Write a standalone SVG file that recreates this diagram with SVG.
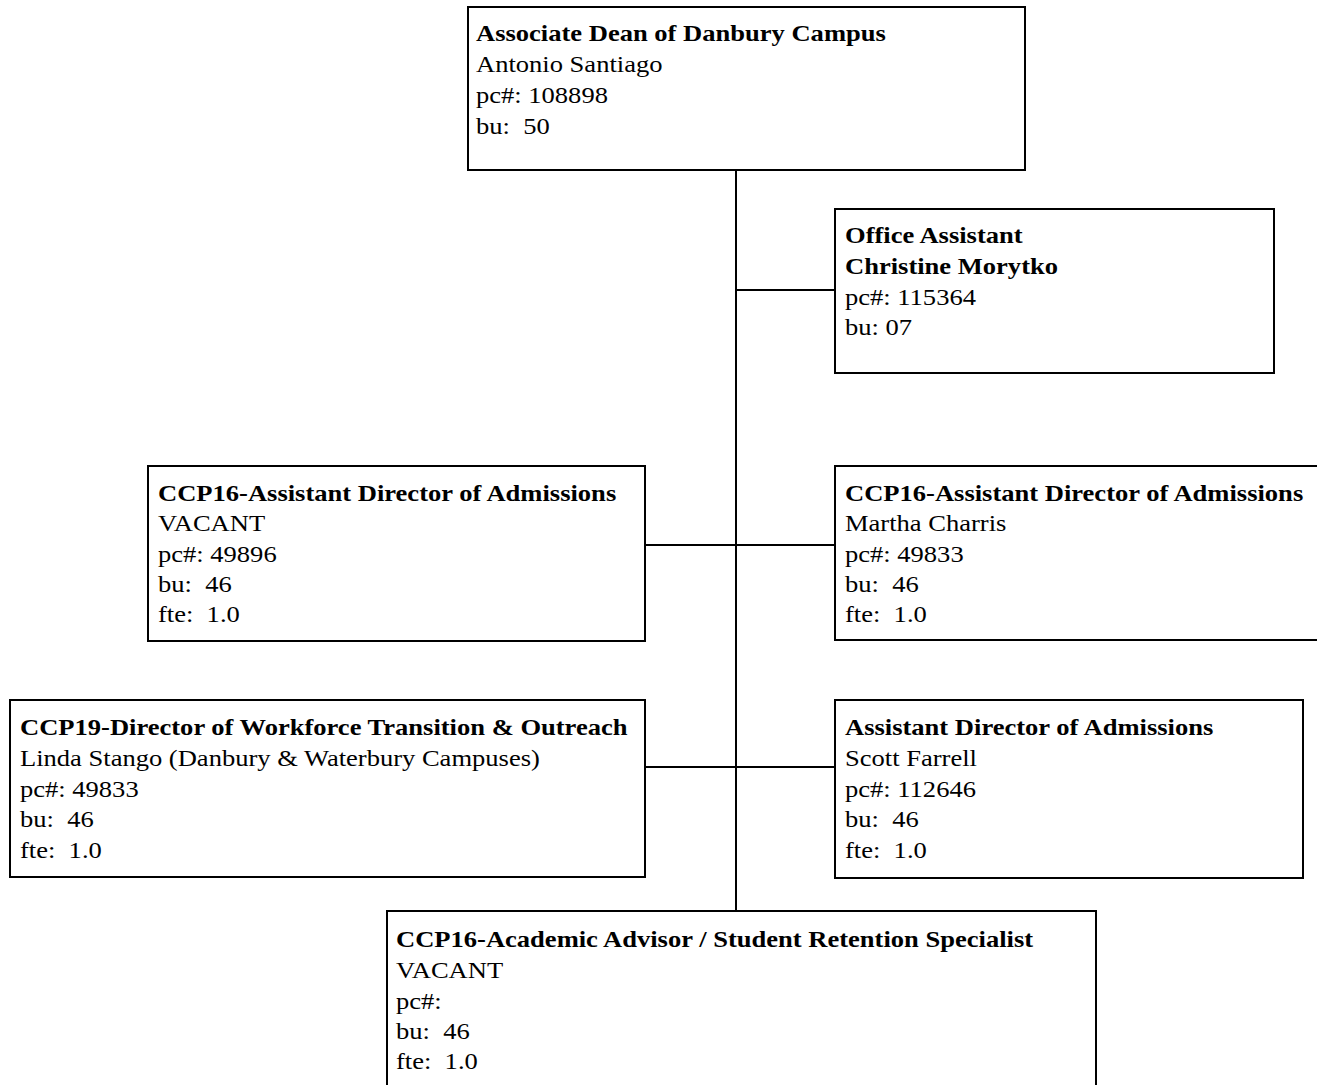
<svg xmlns="http://www.w3.org/2000/svg" width="1317" height="1085" viewBox="0 0 1317 1085">
<style>
.box{fill:#fff;stroke:#000;stroke-width:2}
.ln{stroke:#000;stroke-width:2;fill:none}
text{font-family:"Liberation Serif","Times New Roman",serif;font-size:22.5px;fill:#000}
.b{font-weight:bold}
</style>
<rect width="1317" height="1085" fill="#fff"/>
<g id="connectors">
<line class="ln" x1="736" y1="170" x2="736" y2="911"/>
<line class="ln" x1="736" y1="290" x2="835" y2="290"/>
<line class="ln" x1="645" y1="545" x2="835" y2="545"/>
<line class="ln" x1="645" y1="767" x2="835" y2="767"/>
</g>
<g id="dean">
<rect class="box" x="468" y="7" width="557" height="163"/>
<g transform="translate(476 0) scale(1.18 1)">
<text class="b" x="0" y="41">Associate Dean of Danbury Campus</text>
<text x="0" y="72">Antonio Santiago</text>
<text x="0" y="103">pc#: 108898</text>
<text x="0" y="134" xml:space="preserve">bu:  50</text>
</g>
</g>
<g id="office">
<rect class="box" x="835" y="209" width="439" height="164"/>
<g transform="translate(845 0) scale(1.18 1)">
<text class="b" x="0" y="243">Office Assistant</text>
<text class="b" x="0" y="274">Christine Morytko</text>
<text x="0" y="305">pc#: 115364</text>
<text x="0" y="335">bu: 07</text>
</g>
</g>
<g id="ccp16-left">
<rect class="box" x="148" y="466" width="497" height="175"/>
<g transform="translate(158 0) scale(1.18 1)">
<text class="b" x="0" y="501">CCP16-Assistant Director of Admissions</text>
<text x="0" y="531">VACANT</text>
<text x="0" y="562">pc#: 49896</text>
<text x="0" y="592" xml:space="preserve">bu:  46</text>
<text x="0" y="622" xml:space="preserve">fte:  1.0</text>
</g>
</g>
<g id="ccp16-right">
<rect class="box" x="835" y="466" width="500" height="174"/>
<g transform="translate(845 0) scale(1.18 1)">
<text class="b" x="0" y="501">CCP16-Assistant Director of Admissions</text>
<text x="0" y="531">Martha Charris</text>
<text x="0" y="562">pc#: 49833</text>
<text x="0" y="592" xml:space="preserve">bu:  46</text>
<text x="0" y="622" xml:space="preserve">fte:  1.0</text>
</g>
</g>
<g id="ccp19">
<rect class="box" x="10" y="700" width="635" height="177"/>
<g transform="translate(20 0) scale(1.18 1)">
<text class="b" x="0" y="735">CCP19-Director of Workforce Transition &amp; Outreach</text>
<text x="0" y="766">Linda Stango (Danbury &amp; Waterbury Campuses)</text>
<text x="0" y="797">pc#: 49833</text>
<text x="0" y="827" xml:space="preserve">bu:  46</text>
<text x="0" y="858" xml:space="preserve">fte:  1.0</text>
</g>
</g>
<g id="scott">
<rect class="box" x="835" y="700" width="468" height="178"/>
<g transform="translate(845 0) scale(1.18 1)">
<text class="b" x="0" y="735">Assistant Director of Admissions</text>
<text x="0" y="766">Scott Farrell</text>
<text x="0" y="797">pc#: 112646</text>
<text x="0" y="827" xml:space="preserve">bu:  46</text>
<text x="0" y="858" xml:space="preserve">fte:  1.0</text>
</g>
</g>
<g id="advisor">
<rect class="box" x="387" y="911" width="709" height="200"/>
<g transform="translate(396 0) scale(1.18 1)">
<text class="b" x="0" y="947">CCP16-Academic Advisor / Student Retention Specialist</text>
<text x="0" y="978">VACANT</text>
<text x="0" y="1009">pc#:</text>
<text x="0" y="1039" xml:space="preserve">bu:  46</text>
<text x="0" y="1069" xml:space="preserve">fte:  1.0</text>
</g>
</g>
</svg>
